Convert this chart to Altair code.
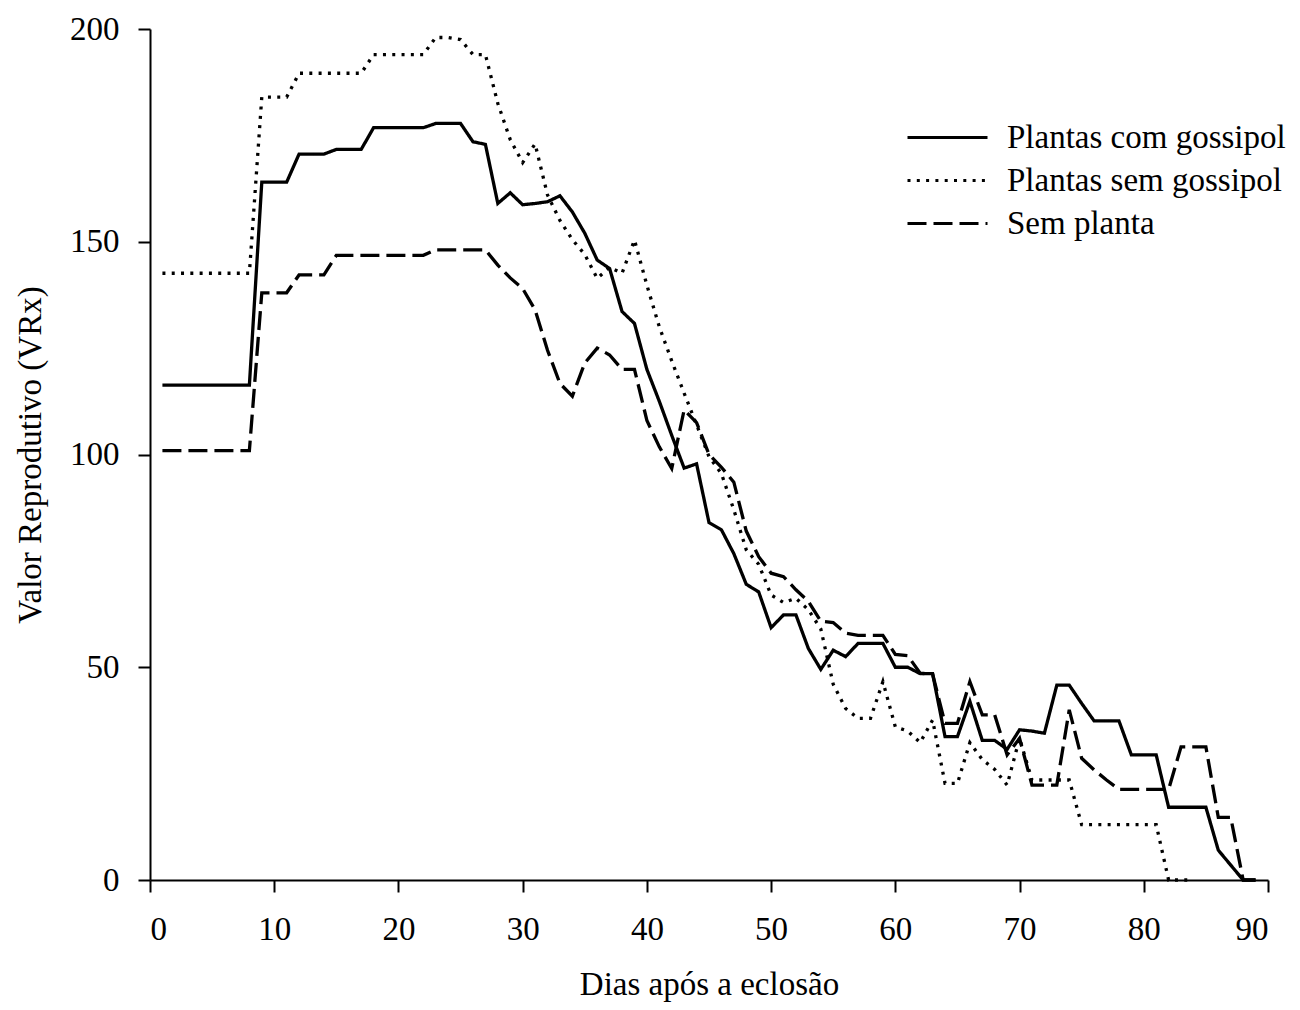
import altair as alt
import pandas as pd

series_names = ["Plantas com gossipol", "Plantas sem gossipol", "Sem planta"]

days_com = list(range(1, 90))
vrx_com = [116.3] * 8 + [
    164, 164, 164, 170.6, 170.6, 170.6, 171.7, 171.7, 171.7, 176.8,   # 9-18
    176.8, 176.8, 176.8, 176.8, 177.8, 177.8, 177.8, 173.5, 172.9, 159,  # 19-28
    161.5, 158.7, 159, 159.4, 160.8, 157, 152, 145.7, 143.7, 133.6,  # 29-38
    130.8, 120, 112.5, 104.5, 96.8, 97.8, 84, 82.3, 76.7, 69.5,  # 39-48
    67.7, 59.3, 62.3, 62.3, 54.4, 49.5, 54, 52.5, 55.6, 55.6,  # 49-58
    55.6, 50, 50, 48.5, 48.5, 33.7, 33.7, 42, 32.8, 32.8,  # 59-68
    30.7, 35.3, 35, 34.5, 45.8, 45.8, 41.5, 37.4, 37.4, 37.4,  # 69-78
    29.4, 29.4, 29.4, 17.1, 17.1, 17.1, 17.1, 7, 3.5, 0, 0,  # 79-89
]

days_sem = list(range(1, 85))
vrx_sem = [142.6] * 8 + [
    184, 184, 184, 189.6, 189.6, 189.6, 189.6, 189.6, 189.6, 194,  # 9-18
    194, 194, 194, 194, 198, 198, 197.5, 194, 194, 182.5,  # 19-28
    174, 168.6, 173, 161, 155, 150.5, 147, 141.4, 144, 142.6,  # 29-38
    150.4, 139.8, 130, 122, 114.4, 107, 99.5, 95.5, 87, 77.6,  # 39-48
    74.2, 67, 65.2, 66.2, 63.5, 59, 46, 40.3, 38, 38,  # 49-58
    46.6, 36, 35, 32.3, 37.6, 22.7, 22.7, 32.3, 28.3, 26,  # 59-68
    22.3, 33.3, 23.5, 23.5, 23.5, 23.5, 13, 13, 13, 13,  # 69-78
    13, 13, 13, 0, 0, 0,  # 79-84
]

days_sp = list(range(1, 90))
vrx_sp = [100.9] * 8 + [
    138, 138, 138, 142.2, 142.2, 142.2, 146.8, 146.8, 146.8, 146.8,  # 9-18
    146.8, 146.8, 146.8, 146.8, 148.1, 148.1, 148.1, 148.1, 148.1, 144.5,  # 19-28
    141.5, 139, 134, 124.5, 116.7, 113.7, 121.5, 125, 123.4, 120,  # 29-38
    120, 108, 101.8, 96.7, 110.5, 107.5, 100, 97, 93.5, 82,  # 39-48
    76, 72.1, 71.3, 68.2, 65.5, 60.8, 60.5, 58, 57.5, 57.5,  # 49-58
    57.5, 53, 52.7, 48.6, 48.4, 36.8, 36.8, 46.6, 38.8, 38.8,  # 59-68
    29.4, 33.3, 22.3, 22.3, 22.3, 40, 28.6, 25.9, 23.5, 21.3,  # 69-78
    21.3, 21.3, 21.3, 21.3, 31.3, 31.3, 31.3, 14.7, 14.7, 0, 0,  # 79-89
]

x_ticks = [0, 10, 20, 30, 40, 50, 60, 70, 80, 90]
y_ticks = [0, 50, 100, 150, 200]

rows = []
for name, ds, vs in [
    (series_names[0], days_com, vrx_com),
    (series_names[1], days_sem, vrx_sem),
    (series_names[2], days_sp, vrx_sp),
]:
    for d, v in zip(ds, vs):
        rows.append({"dia": d, "vrx": v, "serie": name})
df = pd.DataFrame(rows)

FONT = "Liberation Serif"
FS = 33

chart = (
    alt.Chart(df)
    .mark_line(color="black", strokeWidth=3.3)
    .encode(
        x=alt.X(
            "dia:Q",
            scale=alt.Scale(domain=[0, 90], nice=False),
            axis=alt.Axis(values=x_ticks, title="Dias após a eclosão", grid=False,
                          labelPadding=21, titlePadding=22, format="d"),
        ),
        y=alt.Y(
            "vrx:Q",
            scale=alt.Scale(domain=[0, 200], nice=False),
            axis=alt.Axis(values=y_ticks, title="Valor Reprodutivo (VRx)", grid=False,
                          labelPadding=19, titlePadding=22, format="d"),
        ),
        strokeDash=alt.StrokeDash(
            "serie:N",
            scale=alt.Scale(domain=series_names, range=[[1, 0], [3, 6.3], [19, 7]]),
            legend=alt.Legend(
                title=None,
                orient="none",
                legendX=776,
                legendY=87,
                symbolType="M-2,0H2",
                symbolSize=1600,
                symbolStrokeWidth=3,
                symbolStrokeColor="black",
                symbolFillColor="transparent",
                labelFont=FONT,
                labelFontSize=FS,
                labelColor="black",
                labelOffset=38,
                labelLimit=500,
                rowPadding=4,
            ),
        ),
        order="dia:Q",
    )
    .properties(
        width=1118,
        height=851,
        autosize=alt.AutoSizeParams(type="none"),
        padding={"left": 142, "top": 21, "right": 24, "bottom": 122},
    )
    .configure_view(stroke=None)
    .configure_axis(
        domainColor="black",
        domainWidth=2,
        tickColor="black",
        tickWidth=2,
        tickSize=12,
        labelFont=FONT,
        labelFontSize=FS,
        labelColor="black",
        titleFont=FONT,
        titleFontSize=FS,
        titleFontWeight="normal",
        titleColor="black",
    )
)

chart.save("out.html", embed_options={"renderer": "svg", "actions": False})
